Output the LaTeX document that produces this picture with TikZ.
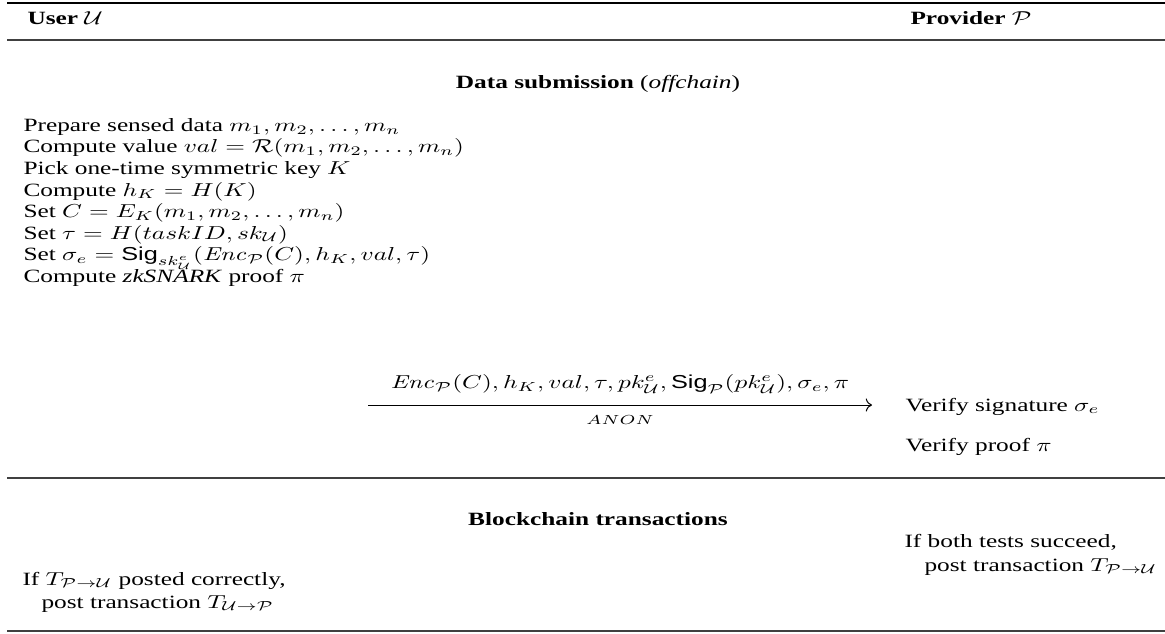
\documentclass[tikz,border=0pt]{standalone}
\usepackage{amsmath,amssymb}
\usepackage[no-math]{fontspec}
\setmainfont{Liberation Serif}
\setsansfont{Liberation Sans}
\usepackage{tikz}
\usetikzlibrary{arrows.meta,positioning}

\newcommand{\Sig}{\mbox{\sffamily Sig}}
\newcommand{\Enc}{\mathit{Enc}}
\newcommand{\tightlines}{\lineskiplimit=-20pt\relax}

\begin{document}
\begin{tikzpicture}[
  x=0.395pt, y=-0.5338pt, yscale=0.74,
  every node/.append style={transform shape},
  >={Computer Modern Rightarrow},
  txt/.style={inner sep=0pt, anchor=base west, font=\fontsize{10}{11.5}\selectfont\tightlines},
  head/.style={txt, font=\fontsize{10}{11.5}\selectfont\bfseries},
  block/.style={txt, align=left},
  toprule/.style={line width=0.8pt},
  midrule/.style={line width=0.5pt, black!75}
]
\useasboundingbox (0,0) rectangle (1165,633);

% rules
\draw[toprule] (7,3) -- (1165,3);
\draw[midrule] (7,40) -- (1165,40);
\draw[midrule] (7,478) -- (1165,478);
\draw[midrule] (7,631) -- (1165,631);

% parties
\node[head] (user) at (27,24) {User $\mathcal{U}$};
\node[head] (prov) at (910,24) {Provider $\mathcal{P}$};

% data submission
\node[head, anchor=base] (datasub) at (598,88) {Data submission \textmd{(\textit{offchain})}};
\node[block, anchor=north west] (steps) at (23,118) {%
  Prepare sensed data $m_1, m_2, \ldots, m_n$\\
  Compute value $val = \mathcal{R}(m_1, m_2, \ldots, m_n)$\\
  Pick one-time symmetric key $K$\\
  Compute $h_K = H(K)$\\
  Set $C = E_K(m_1, m_2, \ldots, m_n)$\\
  Set $\tau = H(taskID, sk_{\mathcal{U}})$\\
  Set $\sigma_e = \Sig_{sk^e_{\mathcal{U}}}(\Enc_{\mathcal{P}}(C), h_K, val, \tau)$\\
  Compute \textit{zkSNARK} proof $\pi$};

\coordinate (snd) at (368,405);
\coordinate (rcv) at (872,405);
\draw[->, line width=0.4pt] (snd) -- node[above=2.5pt, font=\fontsize{10}{12}\selectfont] (msg)
  {$\Enc_{\mathcal{P}}(C), h_K, val, \tau, pk^e_{\mathcal{U}}, \Sig_{\mathcal{P}}(pk^e_{\mathcal{U}}), \sigma_e, \pi$}
  node[below=2pt, font=\fontsize{7}{8}\selectfont] (anon) {$ANON$} (rcv);

\node[txt] (vsig) at (905,411) {Verify signature $\sigma_e$};
\node[txt] (vproof) at (905,451) {Verify proof $\pi$};

% blockchain
\node[head, anchor=base] (chain) at (598,525) {Blockchain transactions};
\node[txt] (ifboth) at (904,547) {If both tests succeed,};
\node[txt] (postp) at (924,571) {post transaction $T_{\mathcal{P}\rightarrow\mathcal{U}}$};
\node[txt] (ifpost) at (22,585) {If $T_{\mathcal{P}\rightarrow\mathcal{U}}$ posted correctly,};
\node[txt] (postu) at (41,608) {post transaction $T_{\mathcal{U}\rightarrow\mathcal{P}}$};
\end{tikzpicture}
\end{document}
